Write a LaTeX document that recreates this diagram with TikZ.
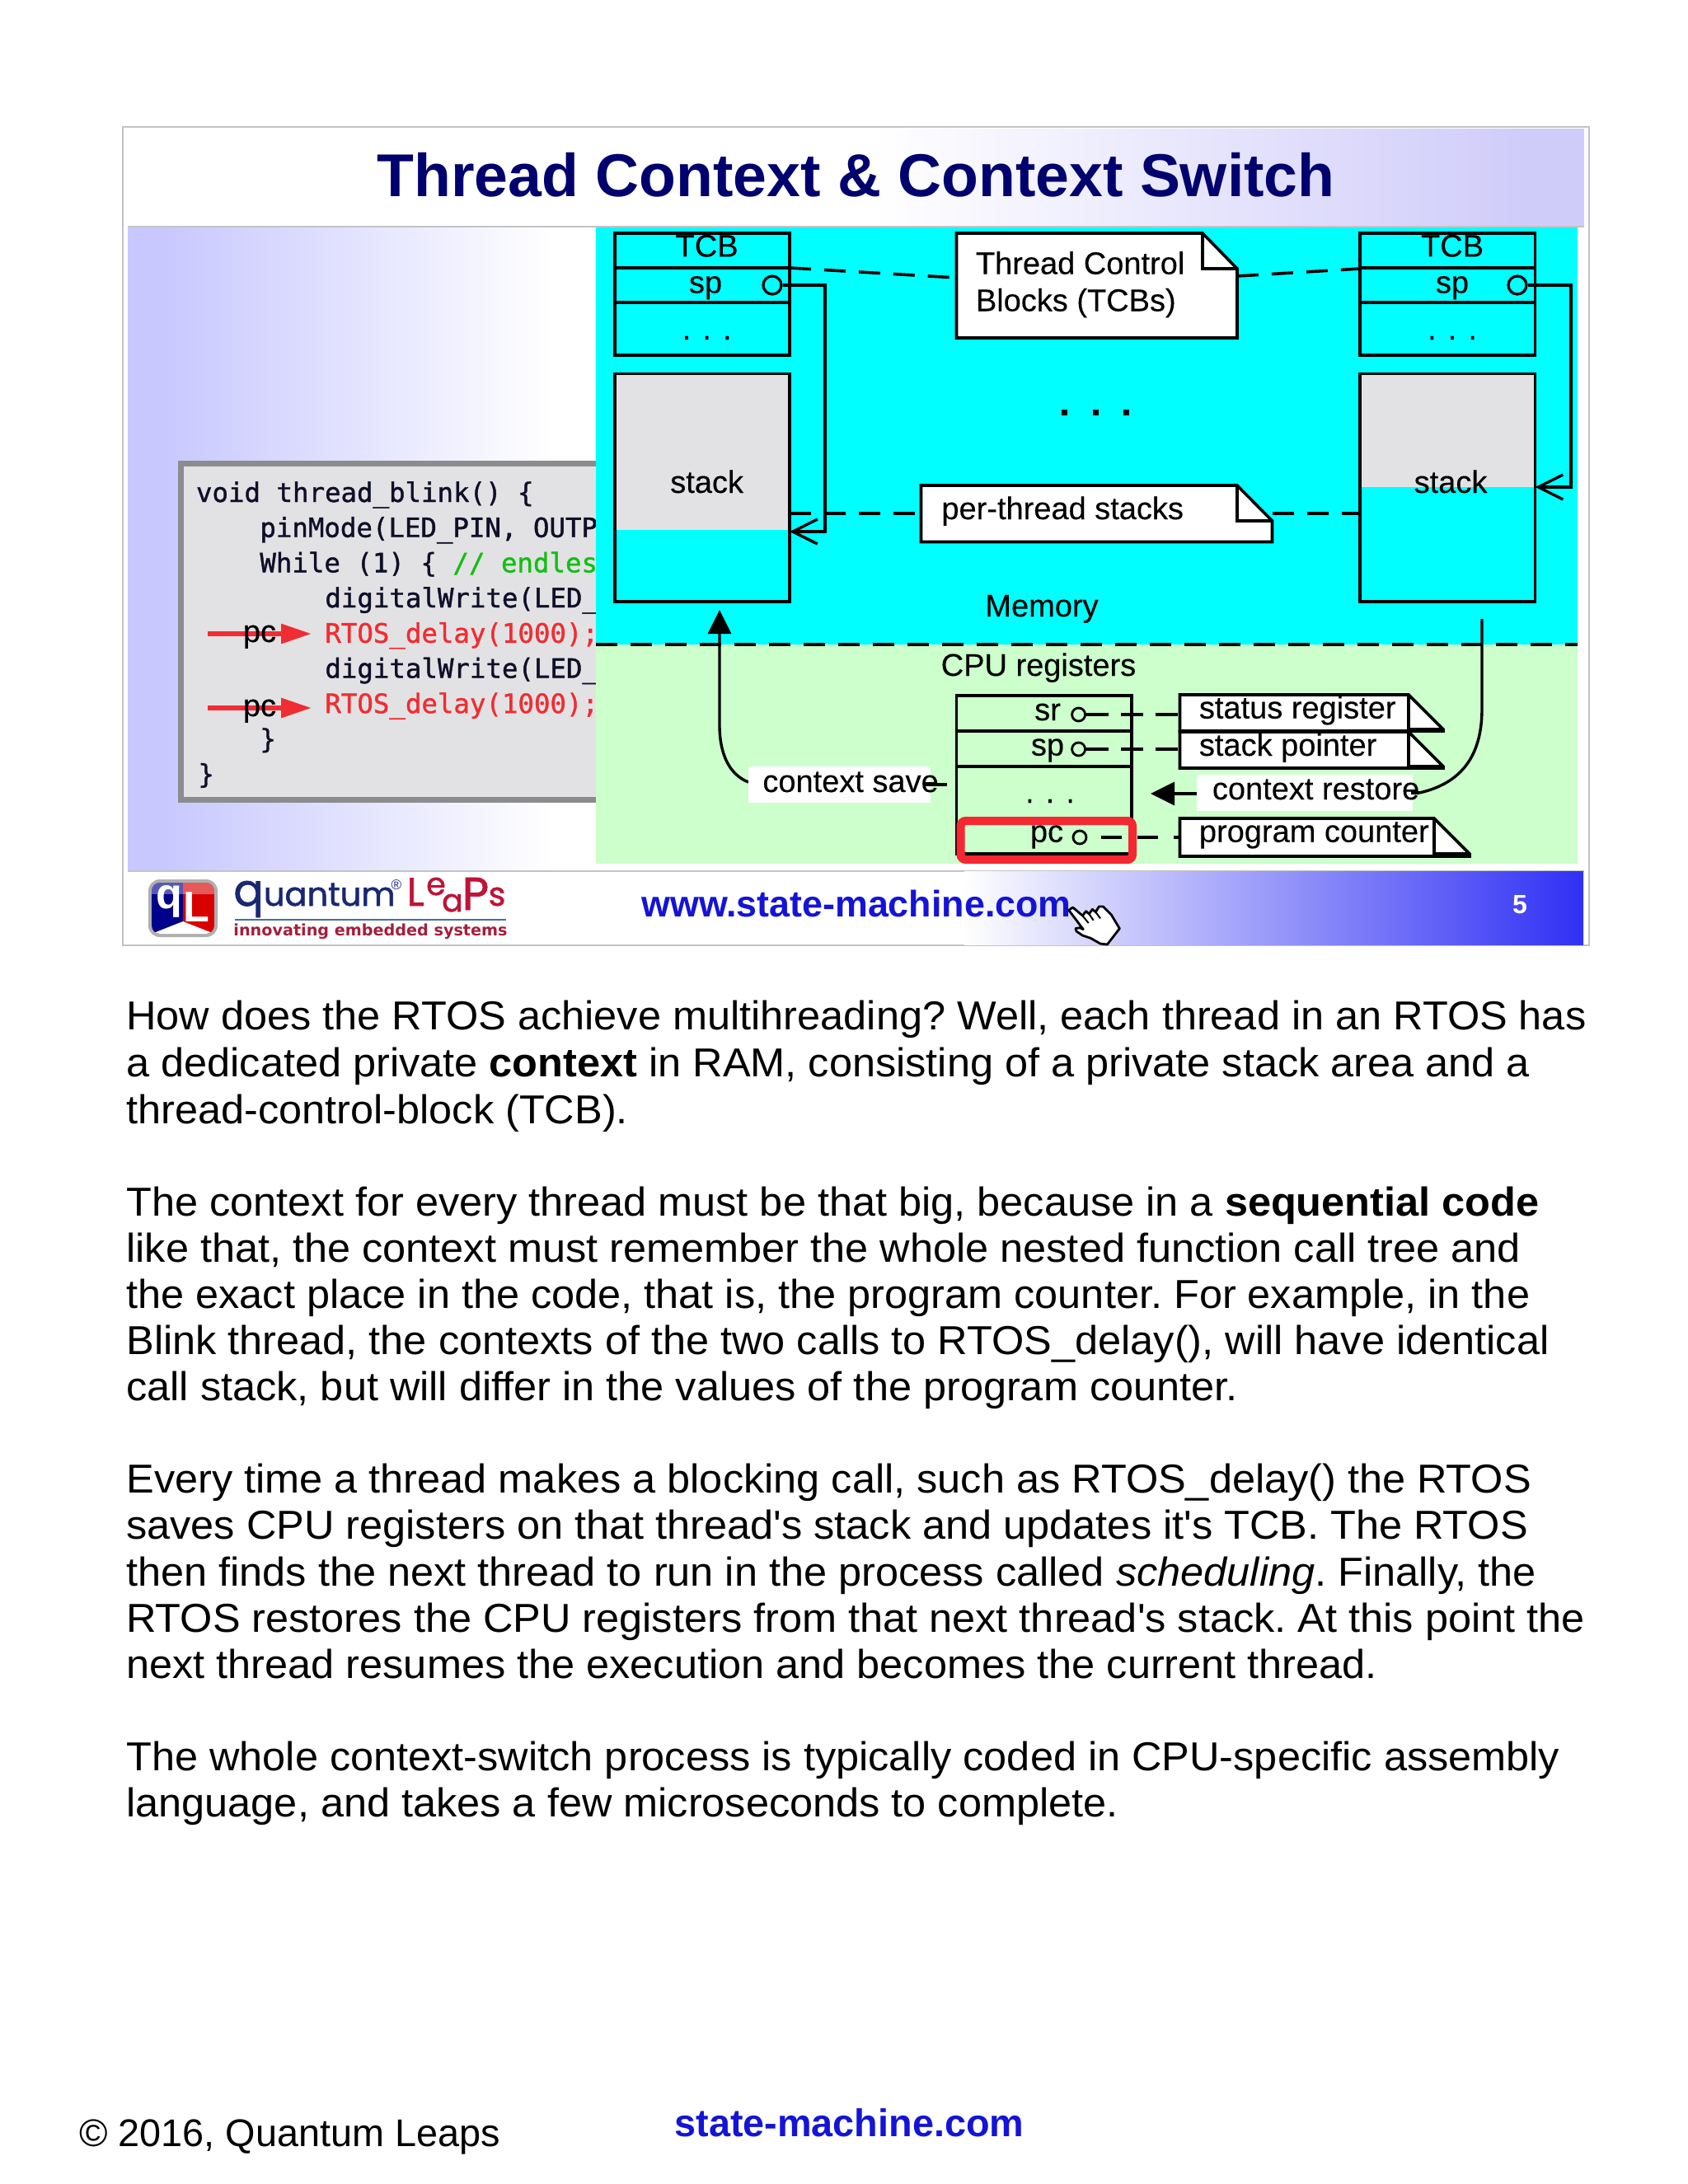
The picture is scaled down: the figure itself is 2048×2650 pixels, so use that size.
\documentclass[tikz,border=0pt]{standalone}
\usepackage{fontspec}
\usetikzlibrary{arrows.meta,fit}
\setmainfont{Liberation Sans}
\newfontfamily\bodyf{Liberation Sans}
\newfontfamily\textf[FakeStretch=1.03]{Liberation Sans}
\newfontfamily\slidef[FakeBold=0.2]{Liberation Sans}
\newfontfamily\codef[FakeBold=1.2]{DejaVu Sans Mono}
\newfontfamily\logof[FakeBold=1.4]{Poppins}
\newfontfamily\tagf{DejaVu Sans}
\newcommand\fsz[1]{\fontsize{#1pt}{#1pt}\selectfont}
\definecolor{framegray}{RGB}{195,195,198}
\definecolor{lav}{RGB}{200,200,255}
\definecolor{lavtwo}{RGB}{208,204,250}
\definecolor{footblue}{RGB}{48,48,245}
\definecolor{cyanbg}{RGB}{0,255,255}
\definecolor{greenbg}{RGB}{204,255,204}
\definecolor{stackgray}{RGB}{226,226,228}
\definecolor{codeframe}{RGB}{140,140,142}
\definecolor{navy}{RGB}{0,0,110}
\definecolor{linkblue}{RGB}{20,20,215}
\definecolor{codeink}{RGB}{15,15,40}
\definecolor{coderd}{RGB}{240,45,50}
\definecolor{codegr}{RGB}{20,190,20}
\definecolor{qlnavy}{RGB}{25,40,115}
\definecolor{qlred}{RGB}{190,20,55}
\definecolor{qltag}{RGB}{165,30,60}
\definecolor{qlline}{RGB}{70,110,170}
\definecolor{redbox}{RGB}{245,40,50}
\tikzset{
  x=0.5pt,y=-0.5pt,
  lab/.style={font=\slidef\fsz{19},inner sep=0pt,anchor=base,text=black},
  labw/.style={lab,anchor=base west},
  codeline/.style={font=\codef\fsz{16.2},inner sep=0pt,anchor=base west,text=codeink},
  bodyline/.style={font=\textf\frenchspacing\fsz{24.5},inner sep=0pt,anchor=base west,text=black},
  ink/.style={line width=1.8pt,draw=black},
  boxline/.style={ink},
  hole/.style={circle,draw=black,line width=1.6pt,minimum size=11pt,inner sep=0pt},
  smallhole/.style={circle,draw=black,line width=1.4pt,minimum size=8pt,inner sep=0pt},
  dashy/.style={line width=1.8pt,draw=black,dash pattern=on 13pt off 8pt},
  openarrow/.style={-{Straight Barb[length=15pt,width=15pt,line width=1.7pt]},line width=1.7pt},
  solidarrow/.style={-{Triangle[length=14.5pt,width=14pt]},line width=1.7pt},
  redarrow/.style={-{Triangle[length=18.5pt,width=11.5pt]},line width=3pt,draw=coderd},
  whitebox/.style={fill=white,inner sep=0pt},
}
% name, x1,y1,x2,y2, options : rectangular node spanning two corners
\newcommand\spanbox[6]{%
  \coordinate (#1-a) at (#2,#3);\coordinate (#1-b) at (#4,#5);
  \node[fit=(#1-a)(#1-b),inner sep=0pt,#6] (#1) {};}
% name, x1,y1,x2,y2, foldx, foldy : note with folded corner
\newcommand\notebox[7]{%
  \spanbox{#1}{#2}{#3}{#4}{#5}{}
  \draw[ink,fill=white,line join=miter] (#2,#3)--(#6,#3)--(#4,#7)--(#4,#5)--(#2,#5)--cycle;
  \draw[ink] (#6,#3)--(#6,#7)--(#4,#7);}
\begin{document}
\begin{tikzpicture}
\useasboundingbox (0,0) rectangle (2048,2650);
\fill[white] (0,0) rectangle (2048,2650);

% slide frame and bands
\draw[framegray,line width=1.2pt] (149,154) rectangle (1928,1147);
\shade[left color=white,right color=lavtwo] (1060,156) rectangle (1850,274);
\fill[lavtwo] (1850,156) rectangle (1922,274);
\draw[framegray,line width=1pt] (155,275) -- (1922,275);
\node[font=\bodyf\bfseries\fsz{36.7},text=navy,inner sep=0pt,anchor=base] (title) at (1038.5,238) {Thread Context \& Context Switch};

\fill[lav] (155,276) rectangle (200,1056);
\shade[left color=lav,right color=white] (200,276) rectangle (670,1056);
\draw[framegray,line width=1pt] (155,1056.5) -- (1922,1056.5);
\shade[left color=white,right color=footblue] (1170,1057) rectangle (1921,1146);

% code box
\fill[stackgray] (219,562) rectangle (730,971);
\draw[codeframe,line width=3.6pt] (730,562.5) -- (219.5,562.5) -- (219.5,970.5) -- (730,970.5);
\node[codeline] (c1) at (237.6,609) {void thread\_blink() \{};
\node[codeline] (c2) at (315,651.7) {pinMode(LED\_PIN, OUTP};
\node[codeline] (c3) at (315,694.4) {While (1) \{ \textcolor{codegr}{// endles}};
\node[codeline] (c4) at (394,737) {digitalWrite(LED\_};
\node[codeline,text=coderd] (c5) at (394,779.8) {RTOS\_delay(1000);};
\node[codeline] (c6) at (394,822.5) {digitalWrite(LED\_};
\node[codeline,text=coderd] (c7) at (394,865.2) {RTOS\_delay(1000);};
\node[codeline] (c8) at (315,908) {\}};
\node[codeline] (c9) at (240,950.6) {\}};

% pc arrows
\coordinate (pa1) at (252,769);\coordinate (pt1) at (378,769);
\coordinate (pa2) at (252,859);\coordinate (pt2) at (378,859);
\draw[redarrow] (pa1) -- (pt1);
\draw[redarrow] (pa2) -- (pt2);
\node[lab] (pc1) at (315,779) {pc};
\node[lab] (pc2) at (315,869) {pc};

% memory / cpu backgrounds
\fill[cyanbg] (723,276) rectangle (1914,782);
\fill[greenbg] (723,782) rectangle (1914,1048);
\coordinate (divL) at (723,782);\coordinate (divR) at (1914,782);
\draw[dashy] (divL) -- (divR);

% left TCB
\spanbox{tcbL}{746}{283}{958}{431}{boxline}
\draw[ink] (746,325) -- (958,325) (746,367) -- (958,367);
\node[lab] (tcbLt) at (857.6,311.4) {TCB};
\node[lab] (tcbLs) at (856,355.5) {sp};
\node[lab] (tcbLd) at (857.6,412) {. . .};
\node[hole] (holeL) at (937,346) {};
% left stack
\fill[stackgray] (746,453.5) rectangle (958,643);
\spanbox{stackL}{746}{453.5}{958}{730}{boxline}
\node[lab] (stackLt) at (857.6,598) {stack};
% right TCB
\spanbox{tcbR}{1650}{283}{1862.5}{431}{boxline}
\draw[ink] (1650,325) -- (1862.5,325) (1650,367) -- (1862.5,367);
\node[lab] (tcbRt) at (1762,311.4) {TCB};
\node[lab] (tcbRs) at (1762,355.5) {sp};
\node[lab] (tcbRd) at (1762,412) {. . .};
\node[hole] (holeR) at (1841,346) {};
% right stack
\fill[stackgray] (1650,453.5) rectangle (1862.5,591);
\spanbox{stackR}{1650}{453.5}{1862.5}{730}{boxline}
\node[lab] (stackRt) at (1760,598) {stack};

% sp pointers
\coordinate (ptrL) at (1001,346);\coordinate (ptrLb) at (1001,645);\coordinate (ptrLe) at (958,645);
\draw[openarrow] (holeL.east) -- (ptrL) -- (ptrLb) -- (ptrLe);
\coordinate (ptrR) at (1906,346);\coordinate (ptrRb) at (1906,591);\coordinate (ptrRe) at (1862.5,591);
\draw[openarrow] (holeR.east) -- (ptrR) -- (ptrRb) -- (ptrRe);

% notes
\notebox{note1}{1160.5}{283}{1501}{410}{1459}{326}
\node[labw] (note1a) at (1183.5,332.6) {Thread Control};
\node[labw] (note1b) at (1183.5,377.5) {Blocks (TCBs)};
\notebox{note2}{1117.5}{589}{1543.5}{657.5}{1501}{632}
\node[labw] (note2a) at (1142,630) {per-thread stacks};
\coordinate (d1a) at (958,325);\coordinate (d1b) at (1160.5,337);
\coordinate (d2a) at (1501,335);\coordinate (d2b) at (1650,326);
\draw[dashy] (d1a) -- (d1b);
\draw[dashy] (d2a) -- (d2b);
\coordinate (d3a) at (958,623);\coordinate (d3b) at (1117.5,623);
\coordinate (d4a) at (1543.5,623);\coordinate (d4b) at (1650,623);
\draw[dashy] (d3a) -- (d3b);
\draw[dashy] (d4a) -- (d4b);

% ellipsis dots
\foreach \dx in {1291,1329,1366}
  \fill[black] (\dx-3.5,496.5) rectangle (\dx+3.5,503.5);

\node[lab] (memlab) at (1264,748) {Memory};
\node[lab] (cpulab) at (1260,820) {CPU registers};

% CPU registers
\spanbox{cpu}{1160.5}{844}{1373}{1036}{boxline}
\draw[ink] (1160.5,887) -- (1373,887) (1160.5,930) -- (1373,930);
\draw[line width=2pt,black] (1171,1036) -- (1369,1036);
\node[lab] (srt) at (1271,874) {sr};
\node[smallhole] (srh) at (1308.6,867) {};
\node[lab] (spt) at (1271,916.7) {sp};
\node[smallhole] (sph) at (1308.6,909) {};
\node[lab] (dott) at (1274,974) {. . .};
\node[lab] (pct) at (1270,1021.7) {pc};
\node[smallhole] (pch) at (1310,1016) {};

% register notes
\notebox{nsr}{1431.5}{843}{1751}{887}{1709}{885}
\notebox{nsp}{1431.5}{888}{1751}{932}{1709}{930}
\notebox{npc}{1431.5}{993}{1783}{1039}{1740}{1036}
\node[labw] (nsrt) at (1454.5,871.7) {status register};
\node[labw] (nspt) at (1454.5,917) {stack pointer};
\node[labw] (npct) at (1454.5,1021.7) {program counter};
\coordinate (a1) at (1431.5,867);\coordinate (a2) at (1431.5,909);
\coordinate (a3) at (1336,1016);\coordinate (a4) at (1431.5,1016);
\draw[line width=1.8pt,dash pattern=on 13.5pt off 7.5pt] (srh.east) -- (a1);
\draw[line width=1.8pt,dash pattern=on 13.5pt off 7.5pt] (sph.east) -- (a2);
\draw[line width=1.8pt,dash pattern=on 12.5pt off 9.5pt] (a3) -- (a4);

% red highlight
\draw[redbox,line width=5pt,rounded corners=3pt] (1165.5,996) rectangle (1374,1043);

% context save
\coordinate (saveTip) at (873,740);\coordinate (saveTick) at (1149,952);
\coordinate (saveStart) at (908,949);
\draw[solidarrow] (saveStart) .. controls (885,940) and (873,915) .. (873,880) -- (saveTip);
\node[whitebox,minimum width=110.5pt,minimum height=22pt,anchor=north west] (saveBox) at (907.5,929.5) {};
\node[labw] (savet) at (925,961) {context save};
\draw[line width=1.7pt] (1122,952) -- (saveTick);

% context restore
\coordinate (restTop) at (1798,751);\coordinate (restEnd) at (1722,962);
\draw[line width=1.7pt] (restEnd) .. controls (1775,950) and (1798,915) .. (1798,860) -- (restTop);
\node[whitebox,minimum width=131pt,minimum height=22pt,anchor=north west] (restBox) at (1451.5,940) {};
\node[labw] (restt) at (1470.5,970) {context restore};
\coordinate (restTip) at (1396,963);
\draw[solidarrow] (restBox.west |- restTip) -- (restTip);
\draw[line width=1.7pt] (restEnd) -- (1712,962);

% footer
\node[font=\bodyf\bfseries\fsz{22.4},text=linkblue,inner sep=0pt,anchor=base west] (url) at (778,1112) {www.state-machine.com};
\node[font=\bodyf\bfseries\fsz{16},text=white,inner sep=0pt,anchor=base] (pageno) at (1844,1108) {5};

% hand cursor
\begin{scope}[shift={(1280,1085)},x=0.1667pt,y=-0.1667pt]
\draw[fill=white,line width=1.4pt,line join=round]
  (50,58)--(65,48)--(100,78)--(113,62)--(124,72)--(136,55)--(148,65)--(160,45)--(175,45)
  --(205,75)--(235,125)--(190,183)--(165,180)--(130,160)--(100,150)--(78,135)--(75,125)
  --(90,122)--(103,128)--cycle;
\draw[line width=1pt] (100,78)--(122,105) (124,72)--(140,95) (148,65)--(165,88);
\end{scope}

% logo
\fill[rounded corners=7pt,fill=codeframe!70!white] (180,1067) rectangle (264,1137);
\begin{scope}
\clip[rounded corners=5pt] (184,1071) rectangle (260,1133);
\fill[blue!55!black] (184,1071) rectangle (222,1133);
\fill[red!85!black] (222,1071) rectangle (260,1133);
\fill[white,opacity=.35] (184,1071) rectangle (260,1085);
\fill[white] (184,1133)--(222,1118)--(260,1133)--(260,1136)--(184,1136)--cycle;
\end{scope}
\node[font=\bodyf\bfseries\fsz{26},text=white,inner sep=0pt] (iconq) at (205,1094) {q};
\node[font=\bodyf\bfseries\fsz{26},text=white,inner sep=0pt] (iconl) at (238,1101) {L};
\node[font=\logof\fsz{20},text=qlnavy,inner sep=0pt,anchor=base west] (qtm) at (283,1099) {{\fsz{27}q}uantum};
\node[font=\bodyf\fsz{8.5},text=qlnavy,inner sep=0pt] (reg) at (481,1074) {®};
\node[font=\logof\fsz{24},text=qlred,inner sep=0pt,anchor=base] (qlL) at (504,1099) {L};
\node[font=\logof\fsz{19},text=qlred,inner sep=0pt,anchor=base] (qle) at (529,1086) {e};
\node[font=\logof\fsz{19},text=qlred,inner sep=0pt,anchor=base] (qla) at (549,1106) {a};
\node[font=\logof\fsz{28},text=qlred,inner sep=0pt,anchor=base] (qlP) at (577,1104) {P};
\node[font=\logof\fsz{20},text=qlred,inner sep=0pt,anchor=base] (qls) at (603,1099) {s};
\coordinate (tagL) at (285,1116);\coordinate (tagR) at (614,1116);
\draw[qlline,line width=1pt] (tagL) -- (tagR);
\node[font=\tagf\bfseries\fsz{9.6},text=qltag,inner sep=0pt,anchor=base] (tag) at (449.5,1135) {innovating embedded systems};

% body text
\node[bodyline] (b1) at (153,1249.3) {How does the RTOS achieve multihreading? Well, each thread in an RTOS has};
\node[bodyline] (b2) at (153,1306.9) {a dedicated private \textbf{context} in RAM, consisting of a private stack area and a};
\node[bodyline] (b3) at (153,1363) {thread-control-block (TCB).};
\node[bodyline] (b4) at (153,1475.2) {The context for every thread must be that big, because in a \textbf{sequential code}};
\node[bodyline] (b5) at (153,1531.3) {like that, the context must remember the whole nested function call tree and};
\node[bodyline] (b6) at (153,1587.4) {the exact place in the code, that is, the program counter. For example, in the};
\node[bodyline] (b7) at (153,1643.5) {Blink thread, the contexts of the two calls to RTOS\_delay(), will have identical};
\node[bodyline] (b8) at (153,1699.6) {call stack, but will differ in the values of the program counter.};
\node[bodyline] (b9) at (153,1811.8) {Every time a thread makes a blocking call, such as RTOS\_delay() the RTOS};
\node[bodyline] (b10) at (153,1867.9) {saves CPU registers on that thread's stack and updates it's TCB. The RTOS};
\node[bodyline] (b11) at (153,1924) {then finds the next thread to run in the process called \textit{scheduling}. Finally, the};
\node[bodyline] (b12) at (153,1980.1) {RTOS restores the CPU registers from that next thread's stack. At this point the};
\node[bodyline] (b13) at (153,2036.2) {next thread resumes the execution and becomes the current thread.};
\node[bodyline] (b14) at (153,2148.4) {The whole context-switch process is typically coded in CPU-specific assembly};
\node[bodyline] (b15) at (153,2204.5) {language, and takes a few microseconds to complete.};

% page footer
\node[font=\bodyf\fsz{23.4},inner sep=0pt,anchor=base west] (copy) at (96,2604) {© 2016, Quantum Leaps};
\node[font=\bodyf\bfseries\fsz{23.4},text=linkblue,inner sep=0pt,anchor=base west] (site) at (818,2592) {state-machine.com};
\end{tikzpicture}
\end{document}
